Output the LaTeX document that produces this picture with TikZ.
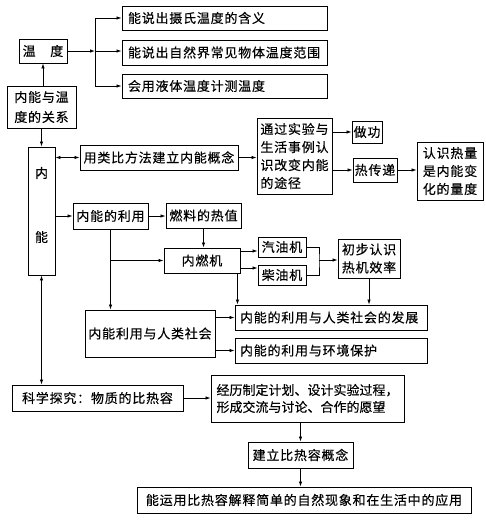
\documentclass[tikz,border=0pt]{standalone}
\usepackage{fontspec}
\setmainfont{Noto Sans CJK SC}[LetterSpace=6,FakeBold=0.3]
\newfontfamily\tightfont{Noto Sans CJK SC}[LetterSpace=0,FakeBold=0.3]
\usetikzlibrary{arrows.meta,calc}
\tikzset{
 box/.style={draw, line width=0.9pt, inner sep=0pt, font=\fontsize{13pt}{18pt}\selectfont},
 lbl/.style={inner sep=0pt, font=\fontsize{13pt}{18pt}\selectfont},
 ln/.style={line width=0.8pt},
 arr/.style={line width=0.8pt, -{Latex[length=5pt,width=3.5pt]}},
 darr/.style={line width=0.8pt, {Latex[length=5pt,width=3.5pt]}-{Latex[length=5pt,width=3.5pt]}}
}
\newcommand\bx[7][]{\node[box,minimum width={(#5)-(#3)},minimum height={(#6)-(#4)},#1] (#2) at ({((#3)+(#5))/2},{((#4)+(#6))/2}) {#7};}
\begin{document}
\begin{tikzpicture}[x=1pt,y=-1pt]
\useasboundingbox (0,0) rectangle (486,521);
% boxes
\bx{wd}{19}{39}{67}{63}{温　度}
\bx[align=center]{gx}{7}{86}{76}{128}{内能与温\\[2pt]度的关系}
\bx{nn}{28}{147}{55}{275}{}
\node[lbl] (nnA) at (41.5,173) {内};
\node[lbl] (nnB) at (41.5,237) {能};
\bx[align=left,text width=193pt]{t1}{122}{6}{327}{30}{能说出摄氏温度的含义}
\bx[align=left,text width=193pt]{t2}{122}{40}{327}{65}{能说出自然界常见物体温度范围}
\bx[align=left,text width=193pt]{t3}{122}{74}{327}{98}{会用液体温度计测温度}
\bx{lb}{80}{145}{238}{170}{用类比方法建立内能概念}
\bx[align=left]{tg}{257}{118}{332}{194}{通过实验与\\生活事例认\\识改变内能\\的途径}
\bx{zg}{352}{121}{382}{143}{做功}
\bx{rc}{353}{158}{397}{182}{热传递}
\bx[align=center]{rs}{417}{142}{483}{200}{认识热量\\是内能变\\化的量度}
\bx{ly}{73}{203}{148}{229}{内能的利用}
\bx{rl}{166}{203}{241}{228}{燃料的热值}
\bx{nr}{164}{248}{240}{273}{内燃机}
\bx{qy}{258}{237}{306}{257}{汽油机}
\bx{cy}{258}{265}{306}{285}{柴油机}
\bx[align=center]{cb}{338}{239}{400}{278}{初步认识\\热机效率}
\bx{rs2}{85}{310}{215}{357}{内能利用与人类社会}
\bx[align=left,text width=182pt]{fz}{235}{305}{427}{330}{内能的利用与人类社会的发展}
\bx[align=left,text width=182pt]{hj}{235}{338}{427}{363}{内能的利用与环境保护}
\bx{kx}{12}{385}{183}{411}{科学探究：物质的比热容}
\bx[align=left,font=\fontsize{13pt}{17pt}\tightfont]{jl}{211}{375}{404}{422}{经历制定计划、设计实验过程，\\形成交流与讨论、合作的愿望}
\bx{bh}{248}{442}{353}{468}{建立比热容概念}
\bx{yy}{137}{487}{471}{513}{能运用比热容解释简单的自然现象和在生活中的应用}
% connectors
\coordinate (jn) at (95,51);
\coordinate (ja) at (95,18);
\coordinate (jb) at (95,86);
\draw[arr] (wd.east) -- (jn);
\draw[ln] (ja) -- (jb);
\draw[arr] (ja) -- (t1.west |- ja);
\draw[arr] (jn) -- (t2.west |- jn);
\draw[arr] (jb) -- (t3.west |- jb);
\draw[arr] (gx.north -| wd.south) -- (wd.south);
\draw[arr] (gx.south -| nn.north) -- (nn.north);
\draw[darr] (lb.west -| nn.east) -- (lb.west);
\draw[arr] (lb.east) -- (lb.east -| tg.west);
\draw[arr] (zg.west -| tg.east) -- (zg.west);
\draw[arr] (rc.west -| tg.east) -- (rc.west);
\draw[arr] (rc.east) -- (rc.east -| rs.west);
\draw[arr] (ly.west -| nn.east) -- (ly.west);
\draw[arr] (ly.east) -- (ly.east -| rl.west);
\draw[arr] (rl.south) -- (rl.south |- nr.north);
\draw[arr] (ly.south) -- (ly.south |- rs2.north);
\draw[arr] (ly.south |- nr.west) -- (nr.west);
\coordinate (qa) at (240,251);
\coordinate (ca) at (240,268);
\draw[arr] (qa) -- (qa -| qy.west);
\draw[arr] (ca) -- (ca -| cy.west);
\coordinate (mg) at (319,260);
\draw[ln] (qy.east) -| (mg) |- (cy.east);
\draw[arr] (mg) -- (mg -| cb.west);
\draw[arr] (cb.south) -- (cb.south |- fz.north);
\coordinate (nd) at ($(nr.south east)+(-3,0)$);
\draw[arr] (nd) -- (nd |- fz.north);
\draw[arr] (rs2.east |- fz.west) -- (fz.west);
\draw[arr] (rs2.east |- hj.west) -- (hj.west);
\draw[darr] (nn.south) -- (nn.south |- kx.north);
\draw[arr] (kx.east) -- (kx.east -| jl.west);
\draw[arr] (bh.north |- jl.south) -- (bh.north);
\draw[arr] (bh.south) -- (bh.south |- yy.north);
\end{tikzpicture}
\end{document}
